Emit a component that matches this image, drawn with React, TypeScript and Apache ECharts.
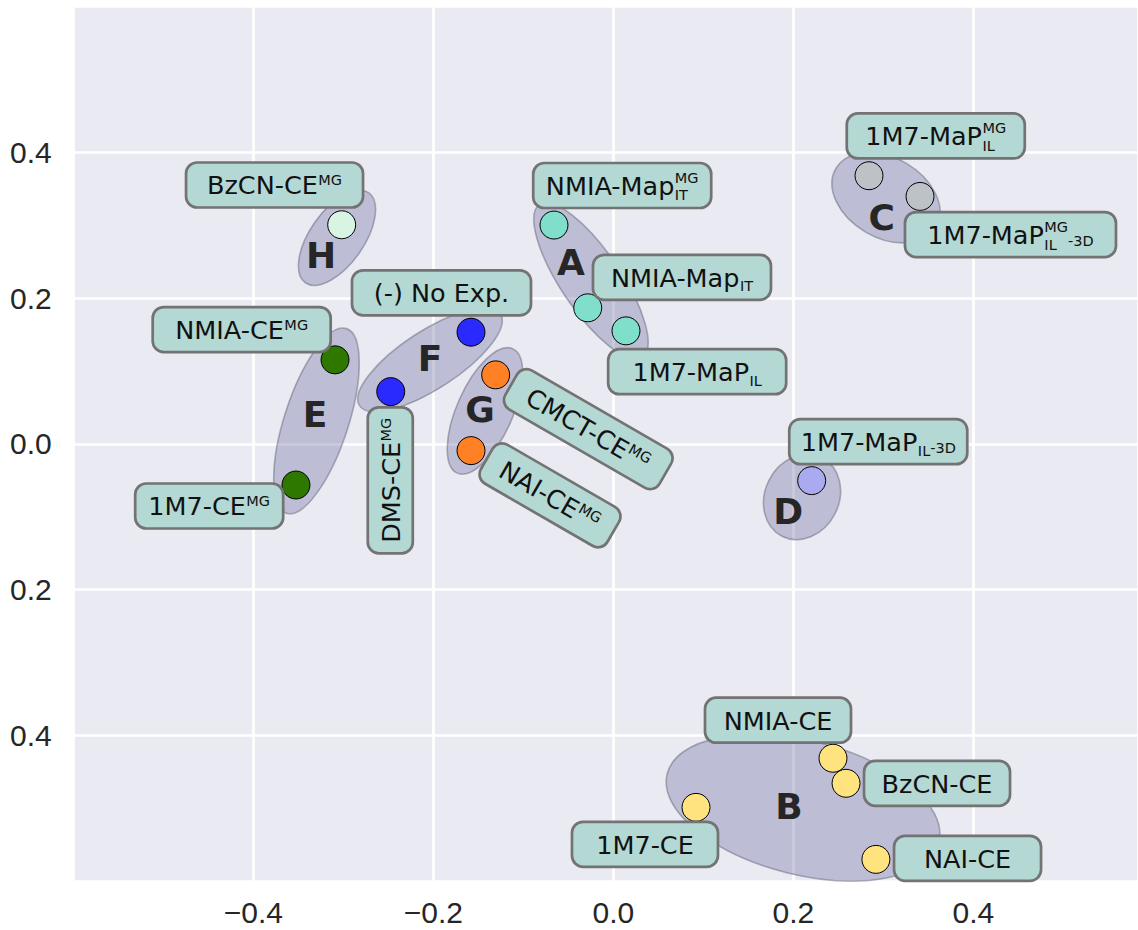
import React, { useEffect, useRef } from "react";
import * as echarts from "echarts";

// ---- axis ----
const X_MIN = -0.6;
const X_MAX = 0.583;
const Y_MIN = -0.6;
const Y_MAX = 0.6;
const TICK_STEP = 0.2;

// ---- points (data coordinates) ----
const pointX = [-0.3018, -0.0659, -0.0284, 0.0141, 0.2841, 0.3408, -0.3092, -0.3526, -0.2473, -0.1581, -0.1307, -0.1581, 0.2204, 0.2441, 0.2586, 0.0919, 0.2918];
const pointY = [0.3007, 0.3003, 0.1867, 0.1551, 0.368, 0.3396, 0.1153, -0.0565, 0.0717, 0.1533, 0.0947, -0.0093, -0.0505, -0.4315, -0.4659, -0.4989, -0.5703];
const pointGroup = ["H", "A", "A", "A", "C", "C", "E", "E", "F", "F", "G", "G", "D", "B", "B", "B", "B"];

// ---- clusters ----
const clusterNames = ["H", "A", "C", "E", "F", "G", "D", "B"];
const clusterLetterX = [-0.3248, -0.047, 0.2982, -0.3314, -0.2037, -0.1481, 0.1944, 0.1952];
const clusterLetterY = [0.2581, 0.2485, 0.311, 0.0397, 0.1176, 0.0466, -0.0931, -0.4973];
const ellipseX = [-0.307, -0.0248, 0.303, -0.3298, -0.2037, -0.1426, 0.2097, 0.2108];
const ellipseY = [0.2829, 0.2238, 0.3378, 0.0315, 0.1153, 0.0452, -0.0729, -0.4995];
const ellipseSemiMajor = [0.0611, 0.1022, 0.0644, 0.1078, 0.0933, 0.0756, 0.0489, 0.1556];
const ellipseSemiMinor = [0.03, 0.0333, 0.0444, 0.0356, 0.0322, 0.0311, 0.0411, 0.0744];
const ellipseAngle = [55, -56, -30, 72, 33, 66, 63, -14];

// ---- labels ----
const labelMain = ["BzCN-CE", "NMIA-Map", "NMIA-Map", "1M7-MaP", "1M7-MaP", "1M7-MaP", "NMIA-CE", "1M7-CE", "DMS-CE", "(-) No Exp.", "CMCT-CE", "NAI-CE", "1M7-MaP", "NMIA-CE", "BzCN-CE", "1M7-CE", "NAI-CE"];
const labelSup = ["MG", "MG", "", "", "MG", "MG", "MG", "MG", "MG", "", "MG", "MG", "", "", "", "", ""];
const labelSub = ["", "IT", "IT", "IL", "IL", "IL", "", "", "", "", "", "", "IL", "", "", "", ""];
const labelTail = ["", "", "", "", "", "-3D", "", "", "", "", "", "", "-3D", "", "", "", ""];
const labelX = [-0.3764, 0.0099, 0.0763, 0.0932, 0.3583, 0.4413, -0.4129, -0.449, -0.2478, -0.1909, -0.0278, -0.0703, 0.2944, 0.183, 0.3597, 0.0352, 0.3936];
const labelY = [0.3553, 0.3546, 0.2286, 0.0991, 0.4226, 0.2873, 0.1569, -0.0853, -0.05, 0.2073, 0.0202, -0.0706, 0.003, -0.3793, -0.4659, -0.5496, -0.5689];

// ---- label layout styles ----
const labelAngle = [0, 0, 0, 0, 0, 0, 0, 0, 90, 0, -30, -30, 0, 0, 0, 0, 0];
const labelBoxWidth = [177, 178, 178, 178, 178, 211, 178, 148, 146, 179, 178, 146, 178, 146, 146, 146, 147];

// ---- styles ----
const clusterColor: Record<string, string> = {
  H: "#d8f4e2",
  A: "#80dfcb",
  C: "#bcc2c6",
  E: "#2e7800",
  F: "#2a2aff",
  G: "#ff8025",
  D: "#aaaaf0",
  B: "#ffe37f",
};
const FONT = '"DejaVu Sans", "Noto Sans", sans-serif';
const MAIN_SIZE = 25.5;
const SCRIPT_SIZE = 14.5;
const BOX_H = 45;

export default function App() {
  const ref = useRef<HTMLDivElement>(null);
  useEffect(() => {
    document.body.style.margin = "0";
    const canvas = document.createElement("canvas");
    const ctx = canvas.getContext("2d")!;
    const tw = (t: string, size: number, weight = "normal") => {
      if (!t) return 0;
      ctx.font = `${weight} ${size}px "DejaVu Sans"`;
      return ctx.measureText(t).width;
    };

    const chart = echarts.init(ref.current!, null, { renderer: "svg" });
    const textStyle = (text: string, size: number, extra: any = {}) => ({
      text,
      fontSize: size,
      fontFamily: FONT,
      fill: "#111",
      align: "left",
      verticalAlign: "middle",
      textAlign: "left",
      textVerticalAlign: "middle",
      ...extra,
    });

    const option: any = {
      animation: false,
      backgroundColor: "#ffffff",
      grid: {
        left: 73.3,
        right: 0,
        top: 6.7,
        bottom: 49,
        show: true,
        backgroundColor: "#EAEAF2",
        borderWidth: 0,
        containLabel: false,
      },
      xAxis: {
        type: "value",
        min: X_MIN,
        max: X_MAX,
        interval: TICK_STEP,
        axisLine: { show: false },
        axisTick: { show: false },
        splitLine: { show: true, lineStyle: { color: "#ffffff", width: 2.7 } },
        axisLabel: {
          showMinLabel: false,
          showMaxLabel: false,
          fontSize: 30,
          fontFamily: '"Liberation Sans", Arial, sans-serif',
          color: "#262626",
          margin: 16,
          formatter: (v: number) =>
            Math.abs(v) < 1e-9 ? "0.0" : v < 0 ? "\u2212" + Math.abs(v).toFixed(1) : v.toFixed(1),
        },
      },
      yAxis: {
        type: "value",
        min: Y_MIN,
        max: Y_MAX,
        interval: TICK_STEP,
        axisLine: { show: false },
        axisTick: { show: false },
        splitLine: { show: true, lineStyle: { color: "#ffffff", width: 2.7 } },
        axisLabel: {
          showMinLabel: false,
          showMaxLabel: false,
          fontSize: 30,
          fontFamily: '"Liberation Sans", Arial, sans-serif',
          color: "#262626",
          margin: 21.6,
          formatter: (v: number) => Math.abs(v).toFixed(1),
        },
      },
      series: [
        {
          type: "custom",
          z: 2,
          coordinateSystem: "cartesian2d",
          data: ellipseX.map((x, i) => [x, ellipseY[i], i]),
          encode: { x: 0, y: 1 },
          renderItem: (params: any, api: any) => {
            const i = api.value(2);
            const c = api.coord([api.value(0), api.value(1)]);
            const a = api.size([ellipseSemiMajor[i], 0])[0];
            const b = api.size([ellipseSemiMinor[i], 0])[0];
            return {
              type: "group",
              x: c[0],
              y: c[1],
              rotation: (ellipseAngle[i] * Math.PI) / 180,
              children: [
                {
                  type: "ellipse",
                  shape: { cx: 0, cy: 0, rx: a, ry: b },
                  style: {
                    fill: "rgba(110,110,160,0.36)",
                    stroke: "rgba(90,90,110,0.45)",
                    lineWidth: 1.6,
                  },
                },
              ],
            };
          },
        },
        {
          type: "scatter",
          z: 3,
          symbol: "circle",
          symbolSize: 28,
          data: pointX.map((x, i) => ({
            value: [x, pointY[i]],
            itemStyle: { color: clusterColor[pointGroup[i]] },
          })),
          itemStyle: { borderColor: "#000", borderWidth: 1, opacity: 1 },
        },
        {
          type: "custom",
          z: 4,
          coordinateSystem: "cartesian2d",
          data: clusterLetterX.map((x, i) => [x, clusterLetterY[i], i]),
          encode: { x: 0, y: 1 },
          renderItem: (params: any, api: any) => {
            const i = api.value(2);
            const c = api.coord([api.value(0), api.value(1)]);
            return {
              type: "text",
              x: c[0],
              y: c[1],
              style: {
                text: clusterNames[i],
                fontSize: 36,
                fontWeight: "bold",
                fontFamily: FONT,
                fill: "#262626",
                align: "center",
                verticalAlign: "middle",
                textAlign: "center",
                textVerticalAlign: "middle",
              },
            };
          },
        },
        {
          type: "custom",
          z: 5,
          coordinateSystem: "cartesian2d",
          data: labelX.map((x, i) => [x, labelY[i], i]),
          encode: { x: 0, y: 1 },
          renderItem: (params: any, api: any) => {
            const i = api.value(2);
            const c = api.coord([api.value(0), api.value(1)]);
            const main = labelMain[i];
            const sup = labelSup[i];
            const sub = labelSub[i];
            const tail = labelTail[i];
            const wm = tw(main, MAIN_SIZE);
            const ws = tw(sup, SCRIPT_SIZE);
            const wb = tw(sub, SCRIPT_SIZE);
            const wt = tw(tail, SCRIPT_SIZE);
            const scriptW = Math.max(ws, wb);
            const cw = wm + scriptW + (scriptW > 0 ? 0.5 : 0) + wt;
            const w = labelBoxWidth[i];
            const x0 = -cw / 2;
            const children: any[] = [
              {
                type: "rect",
                shape: { x: -w / 2, y: -BOX_H / 2, width: w, height: BOX_H, r: 11 },
                style: { fill: "#b4d8d3", stroke: "#737373", lineWidth: 2.7 },
              },
              { type: "text", x: x0, y: 0.5, style: textStyle(main, MAIN_SIZE) },
            ];
            const sx = x0 + wm + 0.5;
            if (sup) children.push({ type: "text", x: sx, y: sub ? -7.5 : -4.5, style: textStyle(sup, SCRIPT_SIZE) });
            if (sub) children.push({ type: "text", x: sx, y: sup ? 10 : 9, style: textStyle(sub, SCRIPT_SIZE) });
            if (tail) children.push({ type: "text", x: sx + scriptW, y: 6, style: textStyle(tail, SCRIPT_SIZE) });
            return {
              type: "group",
              x: c[0],
              y: c[1],
              rotation: (labelAngle[i] * Math.PI) / 180,
              children,
            };
          },
        },
      ],
    };
    chart.setOption(option);
    return () => chart.dispose();
  }, []);
  return <div ref={ref} style={{ width: 1138, height: 930 }} />;
}
